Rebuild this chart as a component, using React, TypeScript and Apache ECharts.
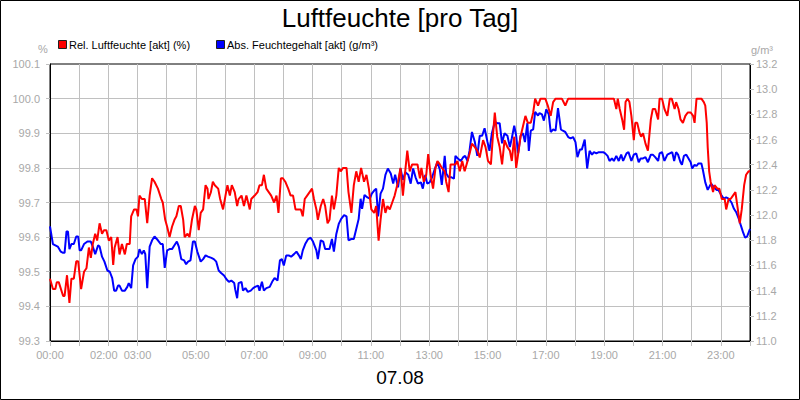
import React, { useEffect, useRef } from "react";
import * as echarts from "echarts";

const chartTitle = "Luftfeuchte [pro Tag]";
const dateLabel = "07.08";
const seriesNames = ["Rel. Luftfeuchte [akt] (%)", "Abs. Feuchtegehalt [akt] (g/m³)"];
const leftUnit = "%";
const rightUnit = "g/m³";
const shownHours = [0, 2, 3, 5, 7, 9, 11, 13, 15, 17, 19, 21, 23];

// [minute of day, relative humidity %]
const relHumidity: [number, number][] = [
  [0, 99.48], [6, 99.45], [11, 99.45], [14, 99.47], [18, 99.47], [27, 99.43], [30, 99.43], [35, 99.49], [40, 99.41], [44, 99.48],
  [49, 99.48], [54, 99.53], [58, 99.53], [64, 99.45], [70, 99.5], [75, 99.51], [80, 99.57], [84, 99.54], [88, 99.58], [93, 99.61],
  [97, 99.59], [102, 99.64], [107, 99.61], [111, 99.62], [116, 99.62], [121, 99.59], [126, 99.6], [130, 99.52], [133, 99.57], [139, 99.6],
  [143, 99.55], [148, 99.58], [154, 99.55], [158, 99.58], [164, 99.58], [167, 99.66], [173, 99.68], [178, 99.68], [181, 99.66], [184, 99.72],
  [189, 99.71], [195, 99.71], [200, 99.64], [205, 99.72], [210, 99.77], [215, 99.76], [222, 99.74], [229, 99.71], [232, 99.7], [237, 99.65],
  [241, 99.63], [246, 99.6], [251, 99.63], [256, 99.65], [260, 99.66], [265, 99.69], [269, 99.69], [274, 99.65], [277, 99.6], [283, 99.61],
  [287, 99.6], [292, 99.65], [298, 99.69], [301, 99.68], [306, 99.62], [310, 99.67], [315, 99.68], [320, 99.75], [324, 99.74], [326, 99.71],
  [331, 99.73], [335, 99.76], [339, 99.75], [346, 99.74], [350, 99.71], [356, 99.68], [361, 99.72], [365, 99.75], [370, 99.72], [374, 99.75],
  [380, 99.73], [385, 99.69], [388, 99.71], [394, 99.72], [399, 99.69], [404, 99.72], [411, 99.68], [414, 99.71], [421, 99.72], [427, 99.73],
  [431, 99.75], [436, 99.75], [440, 99.78], [445, 99.74], [450, 99.73], [455, 99.72], [461, 99.7], [466, 99.72], [470, 99.67], [475, 99.77],
  [479, 99.77], [484, 99.76], [490, 99.74], [495, 99.72], [500, 99.72], [505, 99.68], [510, 99.68], [516, 99.68], [520, 99.66], [524, 99.71],
  [529, 99.72], [534, 99.73], [539, 99.74], [543, 99.71], [548, 99.68], [551, 99.65], [557, 99.69], [562, 99.71], [566, 99.69], [571, 99.64],
  [575, 99.65], [580, 99.72], [584, 99.68], [589, 99.72], [594, 99.8], [598, 99.79], [603, 99.8], [610, 99.8], [614, 99.73], [620, 99.67],
  [625, 99.75], [630, 99.79], [635, 99.76], [640, 99.8], [646, 99.76], [651, 99.78], [656, 99.74], [661, 99.68], [667, 99.67], [671, 99.69],
  [676, 99.59], [680, 99.65], [685, 99.71], [690, 99.67], [694, 99.69], [699, 99.68], [704, 99.7], [709, 99.72], [716, 99.76], [721, 99.8],
  [726, 99.72], [730, 99.78], [735, 99.85], [740, 99.79], [745, 99.81], [750, 99.81], [756, 99.81], [761, 99.77], [764, 99.8], [769, 99.76],
  [774, 99.78], [778, 99.84], [783, 99.78], [788, 99.74], [793, 99.8], [797, 99.82], [802, 99.81], [806, 99.8], [812, 99.79], [815, 99.76],
  [820, 99.73], [824, 99.81], [829, 99.81], [834, 99.81], [838, 99.82], [843, 99.79], [848, 99.82], [853, 99.79], [859, 99.82], [863, 99.84],
  [868, 99.87], [874, 99.86], [879, 99.85], [884, 99.83], [891, 99.88], [896, 99.86], [901, 99.82], [907, 99.81], [911, 99.89], [915, 99.96],
  [920, 99.89], [925, 99.86], [930, 99.81], [935, 99.88], [941, 99.86], [946, 99.85], [950, 99.82], [955, 99.89], [959, 99.8], [963, 99.84],
  [968, 99.89], [973, 99.92], [978, 99.95], [983, 99.93], [989, 99.93], [994, 99.96], [998, 100.0], [1004, 99.98], [1009, 100.0], [1014, 100.0],
  [1019, 100.0], [1024, 99.98], [1030, 99.95], [1035, 99.99], [1040, 100.0], [1045, 100.0], [1053, 100.0], [1060, 99.98], [1066, 100.0], [1100, 100.0],
  [1130, 100.0], [1160, 100.0], [1165, 99.97], [1168, 100.0], [1172, 99.97], [1177, 99.94], [1181, 99.91], [1184, 99.99], [1188, 100.0], [1192, 99.99],
  [1196, 99.95], [1201, 99.88], [1204, 99.93], [1208, 99.93], [1213, 99.9], [1216, 99.89], [1220, 99.9], [1225, 99.87], [1230, 99.85], [1236, 99.94],
  [1240, 99.97], [1245, 99.97], [1251, 99.94], [1254, 100.0], [1259, 100.0], [1264, 99.97], [1270, 99.95], [1275, 100.0], [1279, 100.0], [1285, 99.97],
  [1288, 99.99], [1293, 99.97], [1297, 99.94], [1302, 99.93], [1307, 99.95], [1312, 99.96], [1318, 99.96], [1323, 99.95], [1326, 99.93], [1330, 100.0],
  [1334, 100.0], [1340, 100.0], [1345, 99.99], [1348, 99.98], [1351, 99.93], [1353, 99.86], [1356, 99.79], [1359, 99.76], [1364, 99.73], [1367, 99.75],
  [1373, 99.74], [1377, 99.74], [1382, 99.71], [1388, 99.71], [1391, 99.68], [1396, 99.71], [1400, 99.71], [1405, 99.72], [1410, 99.73], [1415, 99.68],
  [1419, 99.64], [1423, 99.68], [1428, 99.75], [1432, 99.78], [1437, 99.79], [1440, 99.79],
];

// [minute of day, absolute humidity g/m³]
const absHumidity: [number, number][] = [
  [0, 11.91], [6, 11.77], [11, 11.76], [16, 11.75], [22, 11.71], [27, 11.7], [30, 11.7], [34, 11.87], [37, 11.87], [40, 11.73],
  [44, 11.77], [49, 11.77], [54, 11.83], [58, 11.83], [61, 11.72], [64, 11.72], [70, 11.77], [77, 11.79], [84, 11.79], [88, 11.75],
  [93, 11.69], [99, 11.76], [102, 11.75], [107, 11.67], [112, 11.63], [118, 11.56], [123, 11.55], [128, 11.5], [132, 11.4], [136, 11.4],
  [140, 11.44], [143, 11.44], [148, 11.4], [154, 11.4], [159, 11.43], [162, 11.46], [167, 11.42], [171, 11.6], [176, 11.65], [181, 11.67],
  [184, 11.73], [189, 11.69], [193, 11.72], [196, 11.69], [200, 11.42], [205, 11.75], [210, 11.8], [215, 11.83], [222, 11.8], [228, 11.77],
  [232, 11.77], [236, 11.58], [241, 11.72], [246, 11.73], [251, 11.73], [256, 11.76], [261, 11.79], [265, 11.75], [270, 11.65], [276, 11.64],
  [280, 11.61], [284, 11.63], [289, 11.64], [294, 11.79], [298, 11.79], [303, 11.71], [310, 11.63], [315, 11.65], [320, 11.68], [325, 11.67],
  [332, 11.66], [337, 11.65], [342, 11.63], [347, 11.56], [352, 11.54], [358, 11.52], [363, 11.49], [368, 11.47], [373, 11.48], [379, 11.46],
  [381, 11.41], [385, 11.34], [388, 11.46], [394, 11.47], [397, 11.4], [402, 11.42], [407, 11.39], [413, 11.4], [418, 11.42], [422, 11.43],
  [428, 11.44], [431, 11.4], [436, 11.47], [440, 11.4], [445, 11.42], [452, 11.43], [457, 11.47], [462, 11.5], [468, 11.48], [473, 11.64],
  [477, 11.65], [481, 11.6], [486, 11.68], [491, 11.68], [496, 11.67], [502, 11.69], [507, 11.71], [512, 11.68], [516, 11.65], [520, 11.72],
  [525, 11.77], [531, 11.81], [536, 11.82], [541, 11.79], [548, 11.72], [551, 11.65], [557, 11.8], [562, 11.79], [566, 11.73], [572, 11.73],
  [575, 11.73], [580, 11.81], [584, 11.71], [589, 11.85], [594, 11.93], [599, 11.97], [605, 12.0], [610, 11.99], [614, 11.8], [620, 11.81],
  [625, 11.81], [630, 11.89], [635, 11.97], [639, 12.13], [642, 12.05], [647, 12.16], [653, 12.14], [658, 12.13], [662, 12.17], [668, 12.2],
  [671, 12.21], [675, 11.99], [680, 12.17], [685, 12.21], [690, 12.32], [695, 12.37], [701, 12.33], [706, 12.25], [710, 12.32], [716, 12.22],
  [721, 12.37], [726, 12.28], [731, 12.34], [737, 12.32], [742, 12.25], [747, 12.37], [752, 12.3], [757, 12.25], [763, 12.26], [767, 12.21],
  [772, 12.32], [776, 12.25], [781, 12.26], [786, 12.3], [791, 12.36], [797, 12.42], [802, 12.36], [806, 12.24], [812, 12.47], [815, 12.33],
  [820, 12.3], [826, 12.3], [831, 12.29], [834, 12.47], [839, 12.45], [845, 12.43], [850, 12.46], [854, 12.47], [859, 12.43], [863, 12.51],
  [868, 12.66], [874, 12.58], [879, 12.47], [884, 12.63], [889, 12.63], [894, 12.69], [900, 12.58], [904, 12.51], [909, 12.65], [915, 12.74],
  [920, 12.73], [925, 12.73], [930, 12.57], [935, 12.65], [941, 12.63], [946, 12.54], [950, 12.61], [955, 12.71], [959, 12.63], [963, 12.49],
  [968, 12.63], [973, 12.65], [977, 12.58], [982, 12.73], [985, 12.51], [989, 12.67], [994, 12.68], [998, 12.82], [1004, 12.79], [1007, 12.81],
  [1012, 12.8], [1016, 12.75], [1021, 12.84], [1026, 12.8], [1030, 12.66], [1035, 12.68], [1040, 12.67], [1045, 12.85], [1051, 12.68], [1055, 12.67],
  [1060, 12.66], [1066, 12.62], [1071, 12.61], [1076, 12.62], [1081, 12.58], [1085, 12.46], [1090, 12.52], [1094, 12.52], [1100, 12.6], [1105, 12.37],
  [1110, 12.51], [1115, 12.48], [1119, 12.5], [1124, 12.49], [1129, 12.5], [1133, 12.5], [1138, 12.5], [1142, 12.49], [1147, 12.47], [1151, 12.43],
  [1156, 12.45], [1160, 12.43], [1165, 12.47], [1170, 12.43], [1175, 12.48], [1179, 12.43], [1186, 12.49], [1190, 12.5], [1196, 12.43], [1201, 12.48],
  [1206, 12.49], [1211, 12.42], [1215, 12.45], [1220, 12.45], [1225, 12.46], [1230, 12.42], [1236, 12.48], [1240, 12.48], [1245, 12.46], [1251, 12.43],
  [1254, 12.49], [1259, 12.5], [1264, 12.43], [1270, 12.48], [1275, 12.49], [1280, 12.5], [1284, 12.43], [1288, 12.5], [1292, 12.48], [1297, 12.42],
  [1300, 12.4], [1304, 12.47], [1309, 12.48], [1312, 12.46], [1318, 12.42], [1321, 12.37], [1326, 12.4], [1330, 12.39], [1334, 12.41], [1340, 12.41],
  [1343, 12.36], [1348, 12.26], [1353, 12.2], [1357, 12.23], [1360, 12.25], [1366, 12.22], [1371, 12.2], [1375, 12.2], [1381, 12.16], [1386, 12.13],
  [1391, 12.14], [1396, 12.13], [1402, 12.1], [1407, 12.05], [1412, 12.02], [1417, 11.97], [1421, 11.92], [1426, 11.86], [1430, 11.82], [1434, 11.83],
  [1440, 11.89],
];

const FONT = "'Liberation Sans', Arial, sans-serif";
const GREY_TEXT = "#a8a8a8";
const GRID_LINE = "#c0c0c0";

const pad2 = (n: number) => (n < 10 ? "0" + n : "" + n);

export default function App() {
  const ref = useRef<HTMLDivElement>(null);
  useEffect(() => {
    document.body.style.margin = "0";
    if (!ref.current) return;
    const chart = echarts.init(ref.current, null, { renderer: "svg" });
    chart.setOption({
      animation: false,
      backgroundColor: "#fff",
      textStyle: { fontFamily: FONT },
      grid: {
        left: 50, top: 64, right: 50, bottom: 59,
        show: true, borderColor: "#000", borderWidth: 1, backgroundColor: "#fff",
      },
      xAxis: {
        type: "value", min: 0, max: 1440, interval: 60,
        axisLine: { show: true, lineStyle: { color: "#000", width: 1 } },
        axisTick: { show: true, length: 5, lineStyle: { color: GRID_LINE } },
        splitLine: { show: true, showMinLine: false, showMaxLine: false, lineStyle: { color: GRID_LINE, width: 1 } },
        axisLabel: {
          color: GREY_TEXT, fontSize: 11, fontFamily: FONT, margin: 8,
          formatter: (v: number) => {
            const h = Math.round(v / 60);
            if (!shownHours.includes(h)) return "";
            const s = pad2(h) + ":00";
            return h === 2 ? "{a|" + s + "}" : s;
          },
          rich: { a: { color: GREY_TEXT, fontSize: 11, fontFamily: FONT, padding: [0, 9, 0, 0] } },
        },
      },
      yAxis: [
        {
          type: "value", min: 99.3, max: 100.1, interval: 0.1, position: "left",
          axisLine: { show: true, lineStyle: { color: "#000", width: 1 } },
          axisTick: { show: true, length: 4, lineStyle: { color: GRID_LINE } },
          splitLine: { show: true, showMinLine: false, showMaxLine: false, lineStyle: { color: GRID_LINE, width: 1 } },
          axisLabel: { color: GREY_TEXT, fontSize: 11, fontFamily: FONT, margin: 10, formatter: (v: number) => v.toFixed(1) },
        },
        {
          type: "value", min: 11.0, max: 13.2, interval: 0.2, position: "right",
          axisLine: { show: true, lineStyle: { color: "#000", width: 1 } },
          axisTick: { show: true, length: 4, lineStyle: { color: GRID_LINE } },
          splitLine: { show: false },
          axisLabel: { color: GREY_TEXT, fontSize: 11, fontFamily: FONT, margin: 6, formatter: (v: number) => v.toFixed(1) },
        },
      ],
      series: [
        {
          name: seriesNames[1], type: "line", yAxisIndex: 1, data: absHumidity,
          showSymbol: false, symbol: "none", lineStyle: { color: "#0000ff", width: 2 }, itemStyle: { color: "#0000ff" },
          z: 2,
        },
        {
          name: seriesNames[0], type: "line", yAxisIndex: 0, data: relHumidity,
          showSymbol: false, symbol: "none", lineStyle: { color: "#ff0000", width: 2 }, itemStyle: { color: "#ff0000" },
          z: 3,
        },
      ],
      graphic: [
        { type: "rect", shape: { x: 0.5, y: 0.5, width: 799, height: 399 }, style: { fill: "none", stroke: "#000", lineWidth: 1 }, z: 100 },
        { type: "text", x: 400, y: 17.5, style: { text: chartTitle, fontSize: 26, fontFamily: FONT, fill: "#000", align: "center", verticalAlign: "middle" } },
        { type: "rect", shape: { x: 58.5, y: 40.5, width: 8, height: 8 }, style: { fill: "#ff0000", stroke: "#202020", lineWidth: 1 } },
        { type: "text", x: 69, y: 44.5, style: { text: seriesNames[0], fontSize: 11, fontFamily: FONT, fill: "#000", align: "left", verticalAlign: "middle" } },
        { type: "rect", shape: { x: 216.5, y: 40.5, width: 8, height: 8 }, style: { fill: "#0000ff", stroke: "#202020", lineWidth: 1 } },
        { type: "text", x: 227, y: 44.5, style: { text: seriesNames[1], fontSize: 11, fontFamily: FONT, fill: "#000", align: "left", verticalAlign: "middle" } },
        { type: "text", x: 43, y: 49, style: { text: leftUnit, fontSize: 11, fontFamily: FONT, fill: GREY_TEXT, align: "center", verticalAlign: "middle" } },
        { type: "text", x: 762, y: 50, style: { text: rightUnit, fontSize: 11, fontFamily: FONT, fill: GREY_TEXT, align: "center", verticalAlign: "middle" } },
        { type: "text", x: 400, y: 377, style: { text: dateLabel, fontSize: 19, fontFamily: FONT, fill: "#000", align: "center", verticalAlign: "middle" } },
      ],
    });
    return () => chart.dispose();
  }, []);
  return <div ref={ref} style={{ width: 800, height: 400, position: "absolute", left: 0, top: 0 }} />;
}
